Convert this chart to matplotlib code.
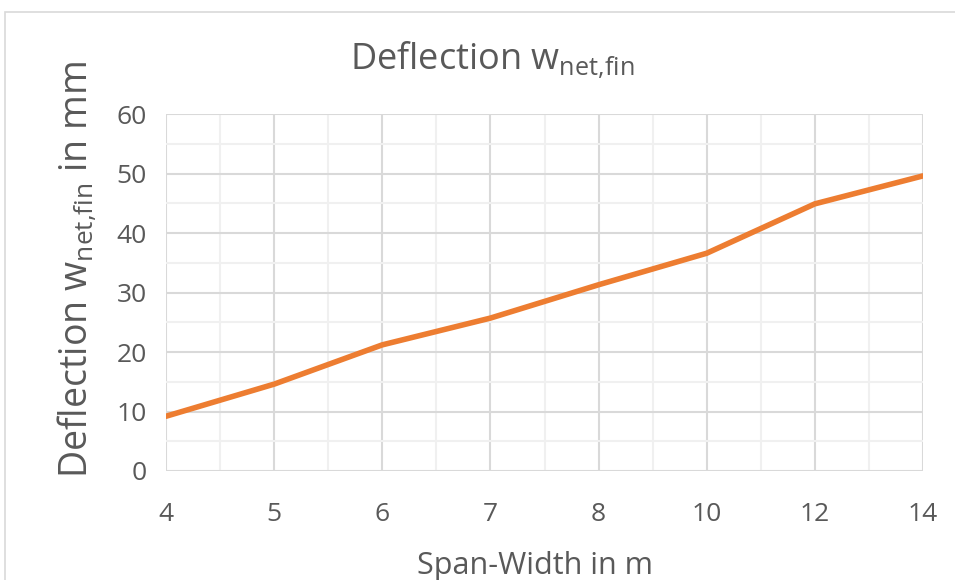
import matplotlib
matplotlib.use('Agg')
import matplotlib.pyplot as plt
from matplotlib.patches import Rectangle

# span widths (categorical axis, like the Excel line chart)
spans = ['4', '5', '6', '7', '8', '10', '12', '14']
deflection = [9.2, 14.6, 21.2, 25.7, 31.3, 36.6, 44.9, 49.6]

plt.rcParams['font.family'] = ['Open Sans', 'DejaVu Sans']

fig = plt.figure(figsize=(9.55, 5.8), dpi=100)
ax = fig.add_axes([166/955, 1-471/580, (923-166)/955, (471-114)/580])

# chart area border (cropped on right/bottom)
fig.patches.append(Rectangle((5/955, -0.1), 1.2, 1 - 12/580 + 0.1,
                             transform=fig.transFigure, fill=False,
                             edgecolor='#d9d9d9', linewidth=1.2))

x = list(range(len(spans)))
ax.plot(x, deflection, color='#ed7d31', linewidth=4, solid_capstyle='round', zorder=3)

ax.set_xlim(0, len(spans) - 1)
ax.set_ylim(0, 60)
ax.set_xticks(x)
ax.set_xticklabels(spans)
ax.set_yticks(range(0, 61, 10))
ax.set_xticks([i + 0.5 for i in x[:-1]], minor=True)
ax.set_yticks(range(5, 60, 10), minor=True)

ax.grid(which='major', color='#d9d9d9', linewidth=1.5)
ax.grid(which='minor', color='#f0f0f0', linewidth=1.5)
ax.set_axisbelow(True)
for s in ax.spines.values():
    s.set_visible(False)
ax.tick_params(which='both', length=0, labelsize=19, labelcolor='#595959')
ax.tick_params(axis='x', pad=22)
ax.tick_params(axis='y', pad=14)

sub = r'$_{\mathregular{net{,}fin}}$'
fig.text(492/955, 1 - 60/580, 'Deflection w' + sub, fontsize=26, color='#595959',
         ha='center', va='center')
ax.set_xlabel('Span-Width in m', fontsize=22, color='#595959')
ax.xaxis.set_label_coords(0.487, -0.225)
ax.set_ylabel('Deflection w' + sub + ' in mm', fontsize=27, color='#595959')
ax.yaxis.set_label_coords(-0.09, 0.565)

fig.savefig('out.png', dpi=100)
